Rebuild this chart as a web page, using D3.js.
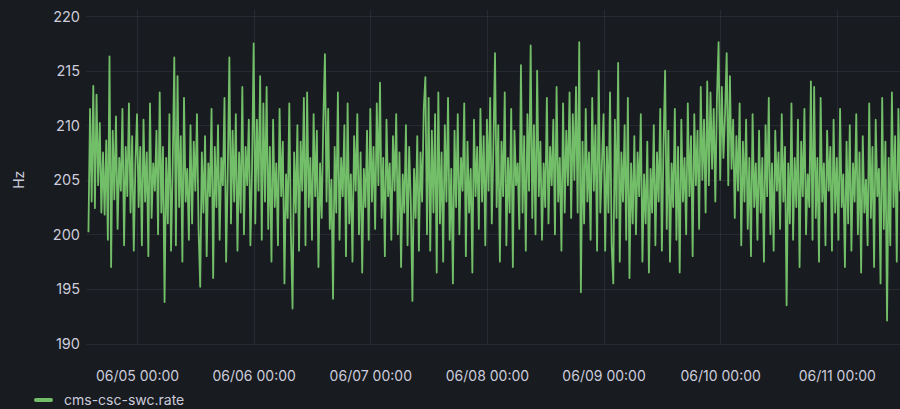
<!DOCTYPE html>
<html><head><meta charset="utf-8">
<script src="https://cdn.jsdelivr.net/npm/d3@7"></script>
<style>
html,body{margin:0;padding:0;background:#181b1f;}
svg{display:block;}
text{font-family:Inter,"Noto Sans",sans-serif;}
</style></head><body>
<svg id="chart" width="900" height="409"></svg>
<script>
// ---- data ----
const seriesName = "cms-csc-swc.rate";
const unitLabel = "Hz";
const startTime = "2024-06-04T14:00:00";
const stepMinutes = 20;
const values = [
200.2,211.5,203.0,213.6,202.4,212.8,204.5,210.2,202.0,207.5,201.8,208.6,199.5,216.3,197.0,209.5,203.2,210.8,200.5,207.0,204.0,211.5,199.0,208.0,203.5,212.0,202.0,209.0,198.5,206.5,
211.0,202.5,208.0,199.0,210.5,203.0,207.5,198.0,212.0,201.5,206.5,204.0,209.5,200.0,213.0,202.0,208.0,193.8,207.0,201.0,211.0,198.5,206.0,216.2,199.0,214.5,202.5,209.0,197.5,212.5,
203.0,206.0,199.5,210.0,201.0,208.5,204.0,211.0,200.5,195.2,207.5,202.0,209.0,198.0,206.5,203.5,211.5,196.0,208.0,202.5,210.0,199.5,207.0,204.5,212.5,197.5,205.5,216.2,201.0,209.5,
203.0,211.0,198.5,207.5,202.0,213.5,200.0,208.0,204.5,210.5,199.0,206.0,
217.5,201.0,210.5,204.0,214.5,199.5,212.0,203.0,213.5,200.5,208.0,197.5,210.5,202.5,206.5,199.0,211.5,203.5,208.5,195.5,205.5,201.5,212.0,200.0,193.2,207.5,202.0,210.0,198.5,208.5,
204.0,212.5,199.0,213.0,202.5,207.0,199.5,211.0,203.5,209.5,197.0,206.5,201.5,210.5,216.5,203.0,211.5,200.5,205.0,194.1,208.0,202.0,213.0,199.5,207.0,203.5,210.0,198.0,212.0,201.0,
205.5,197.5,209.0,204.0,211.0,200.0,207.5,196.5,206.0,202.5,209.5,199.5,
211.5,203.0,208.0,200.5,212.0,204.5,213.9,201.5,207.0,198.0,210.5,203.5,206.5,199.5,209.0,204.0,211.0,200.0,207.5,197.0,205.5,202.0,210.0,199.0,208.0,203.0,193.9,206.0,201.5,209.0,
198.5,207.5,203.0,211.5,214.4,200.0,212.5,198.5,209.5,202.0,211.0,196.5,213.0,201.0,207.5,197.5,210.0,203.0,212.5,199.5,206.0,195.5,209.5,202.5,211.0,200.0,207.0,204.0,212.0,198.0,
208.5,202.0,206.0,196.5,210.5,203.5,208.0,200.5,211.5,203.0,209.0,199.0,
210.5,204.0,212.5,201.0,208.0,216.6,202.5,210.0,197.5,208.5,203.5,213.0,199.0,207.0,202.0,211.5,197.0,209.5,204.5,206.5,200.5,215.5,202.0,209.0,198.5,211.0,204.0,217.3,201.5,210.0,
200.0,215.0,203.5,208.5,199.5,206.5,202.5,212.5,201.0,208.0,204.5,210.5,200.0,213.5,203.0,207.0,198.5,212.0,202.0,209.5,204.5,213.0,201.5,211.0,205.0,213.5,202.0,217.6,194.7,208.5,
201.0,211.5,203.0,207.5,199.5,212.5,204.0,210.0,198.5,215.0,202.0,206.5,
211.0,198.5,208.0,202.0,213.0,199.0,195.5,210.5,201.5,215.7,197.5,207.5,203.0,210.0,199.5,212.5,196.0,206.5,201.0,209.0,200.0,207.5,203.5,211.0,197.5,205.5,201.0,208.5,196.5,206.0,
202.0,210.0,199.0,207.5,203.0,211.5,198.5,208.0,215.0,200.5,209.5,197.5,206.5,202.5,211.5,199.5,208.0,196.5,210.5,203.0,207.0,200.0,212.0,203.5,209.0,198.0,211.0,204.5,209.5,200.5,
213.5,205.0,210.5,202.0,214.0,204.5,213.0,206.0,211.5,203.0,212.5,217.6,
205.0,213.5,207.0,211.0,216.6,204.5,214.5,206.0,210.5,201.5,209.0,204.0,212.0,199.0,208.5,203.0,210.5,200.5,207.0,198.0,211.0,202.5,206.5,199.5,209.5,202.0,207.0,197.5,210.0,203.5,
212.5,200.0,206.5,198.5,209.5,204.0,207.5,200.5,211.0,203.0,208.0,193.5,206.5,201.0,212.0,199.5,207.0,202.5,210.5,197.0,208.5,203.5,211.5,200.0,205.5,202.5,214.0,199.5,213.5,201.5,
207.0,197.5,212.5,203.0,206.5,199.0,209.5,204.0,208.0,198.5,210.5,202.0,
207.0,199.5,211.5,202.5,205.5,197.0,208.5,201.0,210.0,198.5,206.5,203.0,211.0,200.0,207.5,196.5,209.0,202.0,205.0,199.0,212.0,201.5,208.0,197.0,210.5,203.5,206.0,195.5,212.5,200.5,
208.5,192.1,207.0,199.0,213.0,202.5,209.0,197.5,211.5,204.0,206.5
];
const yTicks = [190,195,200,205,210,215,220];
const xTickTimes = ["2024-06-05T00:00:00","2024-06-06T00:00:00","2024-06-07T00:00:00","2024-06-08T00:00:00","2024-06-09T00:00:00","2024-06-10T00:00:00","2024-06-11T00:00:00"];
const xDomain = ["2024-06-04T13:30:00","2024-06-11T13:00:00"];

(function(){
// ---- layout ----
const W = 900, H = 409;
const pLeft = 86, pRight = 900, pTop = 16, pBottom = 343.5;
const bg = "#181b1f", txt = "#ccccdc", grid = "rgba(204,204,220,0.09)", lineColor = "#73bf69";

const parse = d3.isoParse;
const t0 = parse(startTime);
const data = values.map((v,i)=>({t:new Date(t0.getTime()+i*stepMinutes*60000), v}));

const svg = d3.select("#chart");
svg.append("rect").attr("width",W).attr("height",H).attr("fill",bg);

const x = d3.scaleTime().domain(xDomain.map(parse)).range([pLeft,pRight]);
const y = d3.scaleLinear().domain([190,220]).range([pBottom,pTop]);

// grid
const g = svg.append("g");
g.selectAll(".hg").data(yTicks).join("line")
  .attr("x1",pLeft).attr("x2",pRight)
  .attr("y1",d=>Math.round(y(d))+0.5).attr("y2",d=>Math.round(y(d))+0.5)
  .attr("stroke",grid).attr("stroke-width",1);
g.selectAll(".vg").data(xTickTimes.map(parse)).join("line")
  .attr("x1",d=>Math.round(x(d))+0.5).attr("x2",d=>Math.round(x(d))+0.5)
  .attr("y1",pTop-6).attr("y2",pBottom+1)
  .attr("stroke",grid).attr("stroke-width",1);

// y axis
const yAxis = d3.axisLeft(y).tickValues(yTicks).tickSize(0).tickPadding(0).tickFormat(d3.format("d"));
const ya = svg.append("g").attr("transform",`translate(${pLeft-6},0)`).call(yAxis);
ya.select(".domain").remove();
ya.selectAll("text").attr("fill",txt).attr("font-size",14.5).attr("dy","0.35em").attr("x",0);

// x axis
const xAxis = d3.axisBottom(x).tickValues(xTickTimes.map(parse)).tickSize(0).tickPadding(0).tickFormat(d3.timeFormat("%m/%d %H:%M"));
const xa = svg.append("g").attr("transform",`translate(0,376)`).call(xAxis);
xa.select(".domain").remove();
xa.selectAll("text").attr("fill",txt).attr("font-size",14).attr("dy","0.35em").attr("y",0);

// y label
svg.append("text").attr("transform",`translate(19,${(pTop+pBottom)/2}) rotate(-90)`)
  .attr("text-anchor","middle").attr("dy","0.35em").attr("fill",txt).attr("font-size",14).text(unitLabel);

// line
svg.append("path").datum(data)
  .attr("fill","none").attr("stroke",lineColor).attr("stroke-width",1.8)
  .attr("stroke-linejoin","round")
  .attr("d",d3.line().x(d=>x(d.t)).y(d=>y(d.v)));

// legend
svg.append("rect").attr("x",34).attr("y",398).attr("width",19).attr("height",4).attr("rx",2).attr("fill",lineColor);
svg.append("text").attr("x",64).attr("y",400).attr("dy","0.35em").attr("fill",txt).attr("font-size",14).text(seriesName);
})();
</script>
</body></html>
